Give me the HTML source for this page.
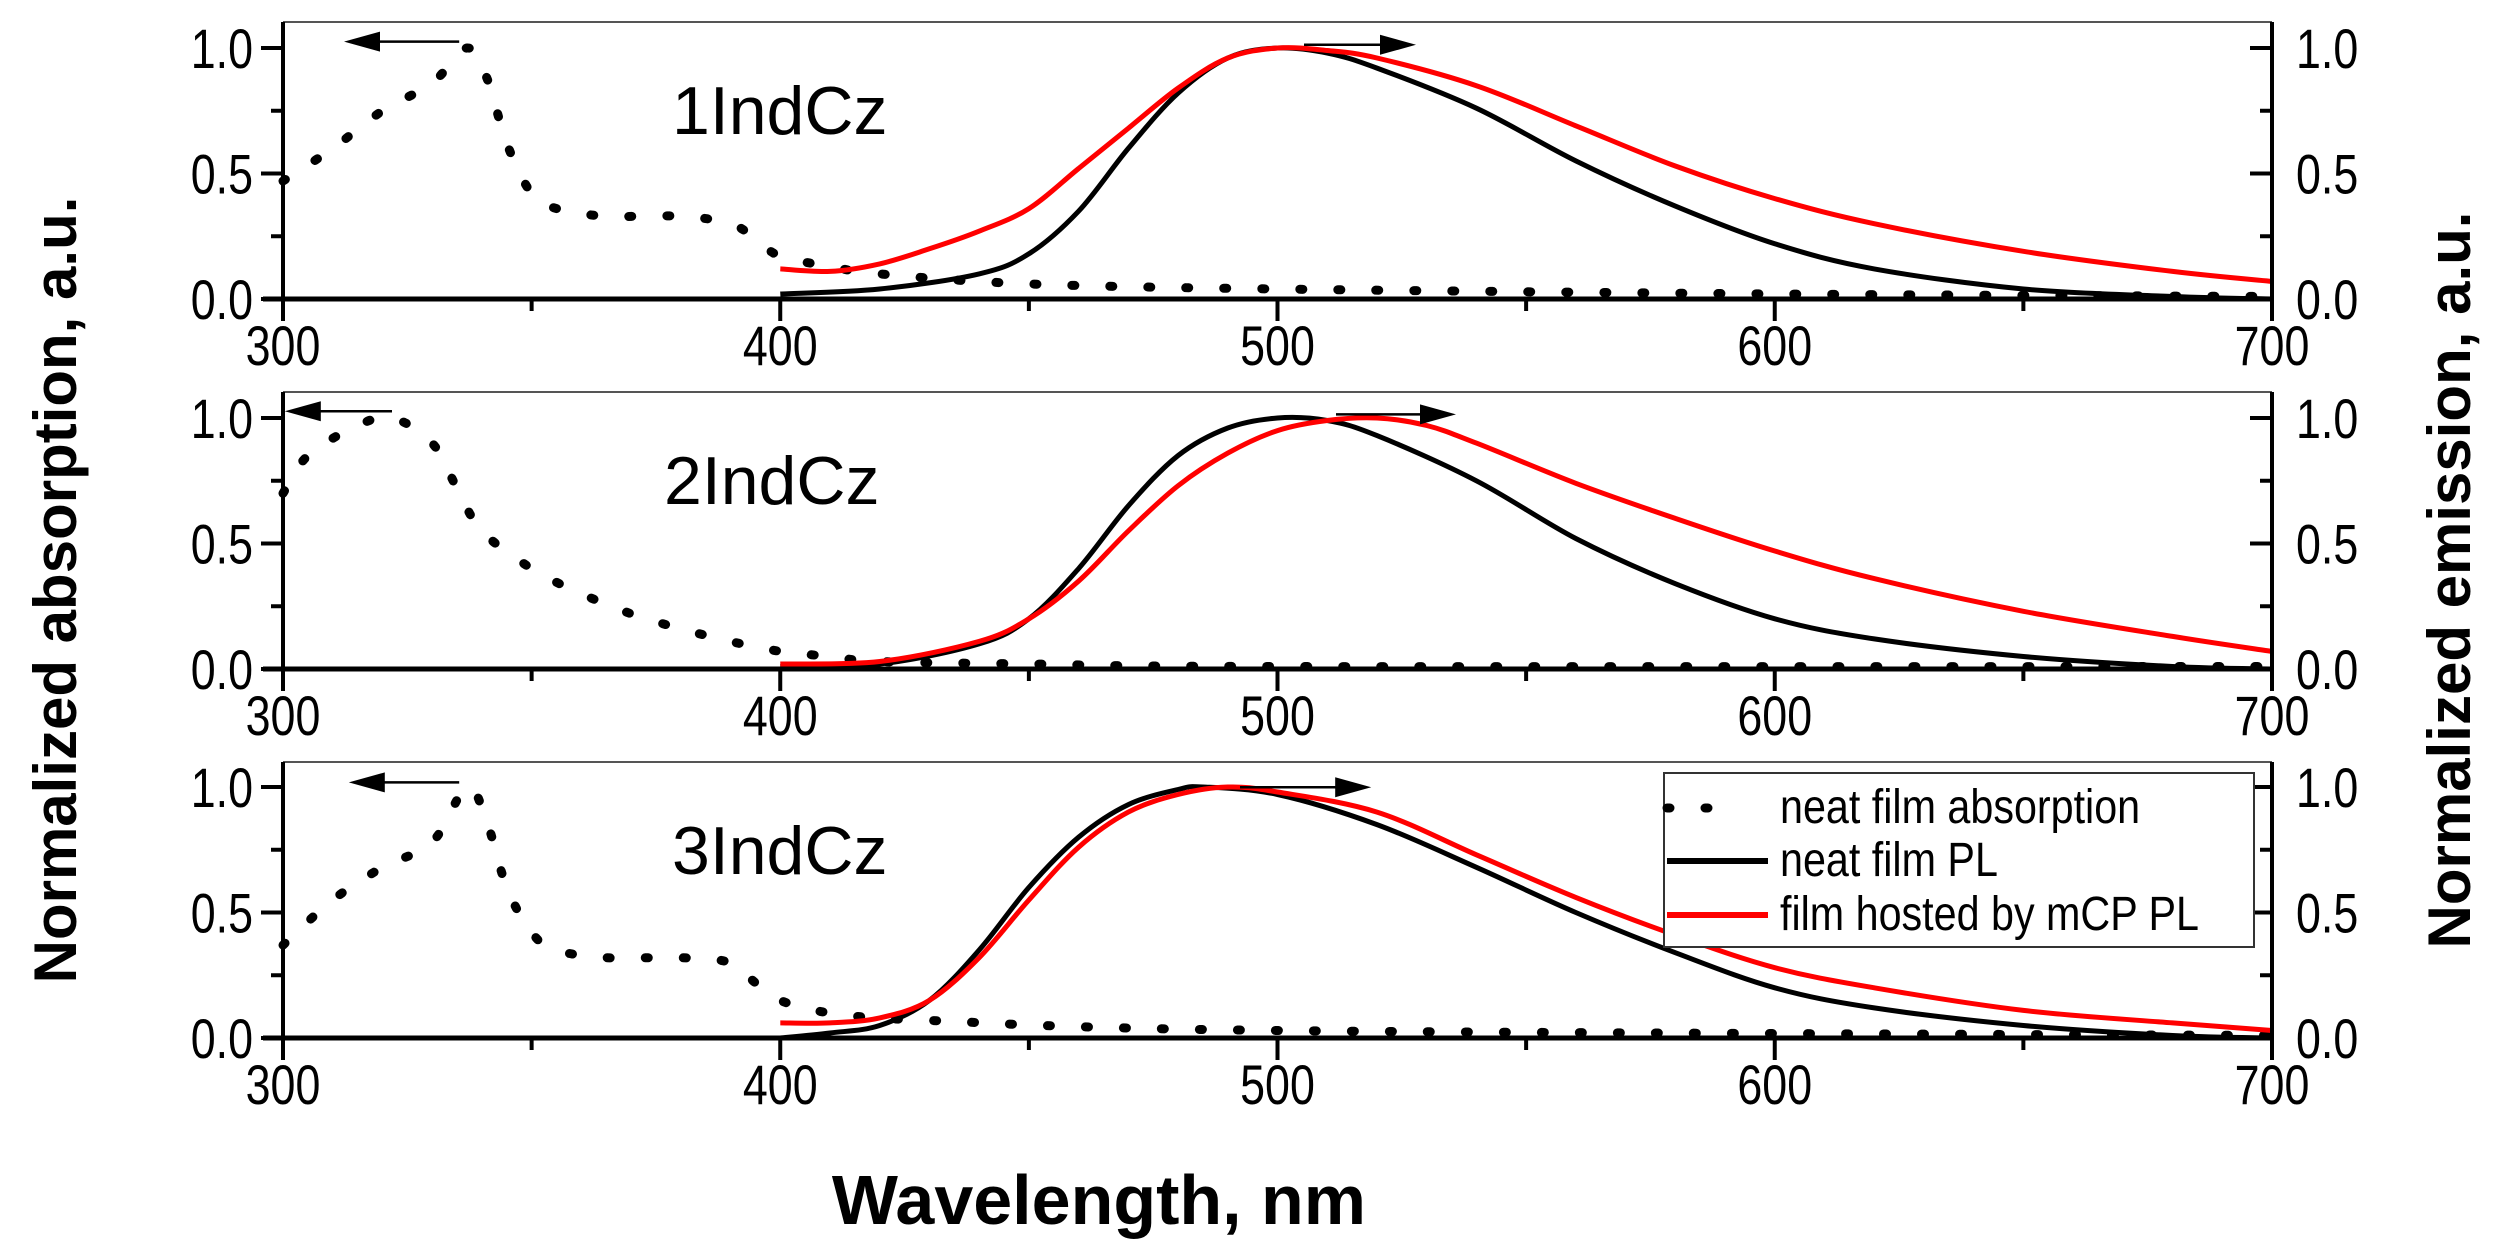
<!DOCTYPE html>
<html><head><meta charset="utf-8"><style>
html,body{margin:0;padding:0;background:#fff}
svg{display:block}
text{font-family:"Liberation Sans",sans-serif}
.b{font-family:"Liberation Sans",sans-serif;font-weight:bold}
</style></head><body>
<svg id="s" width="2496" height="1256" viewBox="0 0 2496 1256" xmlns="http://www.w3.org/2000/svg"></svg>
<script>
const s=document.getElementById('s');
const X0=283,X1=2272;
const xs=n=>X0+(n-300)*(X1-X0)/400;
const P=[{top:22,y1:48,y0:299,lab:'1IndCz'},{top:392,y1:418,y0:669,lab:'2IndCz'},{top:762,y1:787,y0:1038,lab:'3IndCz'}];
let h='';
function path(pts,p){
  const q=pts.map(a=>[xs(a[0]),p.y0-(p.y0-p.y1)*a[1]]);
  let d='M'+q[0][0].toFixed(1)+' '+q[0][1].toFixed(1);
  for(let i=0;i<q.length-1;i++){
    const a=q[i-1]||q[i],b=q[i],c=q[i+1],e=q[i+2]||c;
    const c1=[b[0]+(c[0]-a[0])/6,b[1]+(c[1]-a[1])/6],c2=[c[0]-(e[0]-b[0])/6,c[1]-(e[1]-b[1])/6];
    d+=` C${c1[0].toFixed(1)} ${c1[1].toFixed(1)} ${c2[0].toFixed(1)} ${c2[1].toFixed(1)} ${c[0].toFixed(1)} ${c[1].toFixed(1)}`;
  }
  return d;
}
function T(x,y,t,anchor,fs,sx){return `<text transform="translate(${x},${y}) scale(${sx},1)" font-size="${fs}" text-anchor="${anchor}">${t}</text>`;}
const D=[
{ab:[[300,.47],[310,.6],[320,.75],[330,.86],[337,1],[341,.88],[345,.62],[350,.42],[355,.36],[365,.33],[380,.33],[390,.3],[395,.24],[400,.17],[410,.13],[420,.1],[450,.06],[500,.04],[600,.02],[700,.01]],
 k:[[400,.02],[420,.04],[440,.1],[450,.18],[460,.35],[470,.6],[480,.82],[490,.96],[500,1],[510,.98],[520,.92],[540,.76],[560,.55],[580,.37],[600,.22],[620,.12],[650,.04],[680,.01],[700,0]],
 r:[[400,.12],[410,.11],[420,.14],[430,.2],[440,.27],[450,.36],[460,.52],[470,.68],[480,.84],[490,.96],[500,1],[510,.99],[520,.96],[540,.85],[560,.69],[580,.53],[600,.4],[620,.3],[650,.19],[680,.11],[700,.07]],
 la:[287,215,26],ra:[815,885,28]},
{ab:[[300,.7],[305,.85],[315,.97],[322,1],[330,.9],[335,.72],[340,.55],[350,.4],[360,.3],[370,.22],[380,.16],[390,.11],[400,.07],[410,.05],[420,.03],[450,.02],[500,.01],[700,.01]],
 k:[[400,.01],[420,.02],[440,.1],[450,.2],[460,.4],[470,.65],[480,.85],[490,.96],[500,1],[510,.99],[520,.93],[540,.75],[560,.52],[580,.34],[600,.2],[620,.12],[650,.05],[680,.01],[700,0]],
 r:[[400,.02],[420,.03],[440,.11],[450,.2],[460,.35],[470,.55],[480,.73],[490,.86],[500,.95],[510,.99],[520,1],[530,.97],[540,.9],[560,.74],[580,.6],[600,.47],[620,.36],[650,.23],[680,.13],[700,.07]],
 la:[245,178,257],ra:[835,910,259]},
{ab:[[300,.37],[310,.55],[320,.68],[330,.78],[337,1],[341,.86],[345,.6],[350,.42],[355,.35],[365,.32],[380,.32],[390,.3],[395,.22],[400,.15],[410,.1],[430,.07],[500,.03],[700,.01]],
 k:[[400,0],[410,.02],[420,.05],[430,.15],[440,.35],[450,.6],[460,.8],[470,.93],[480,.99],[485,1],[500,.97],[520,.85],[540,.68],[560,.5],[580,.34],[600,.2],[620,.12],[650,.05],[680,.01],[700,0]],
 r:[[400,.06],[410,.06],[420,.08],[430,.15],[440,.32],[450,.55],[460,.76],[470,.9],[480,.97],[490,1],[500,.98],[520,.9],[540,.73],[560,.56],[580,.41],[600,.28],[620,.2],[650,.11],[680,.06],[700,.03]],
 la:[287,218,489],ra:[775,857,492]}];
P.forEach((p,i)=>{
  const d=D[i];
  h+=`<line x1="${X0}" y1="${p.top}" x2="${X1}" y2="${p.top}" stroke="#555" stroke-width="2"/>`;
  h+=`<path d="${path(d.ab,p)}" fill="none" stroke="#000" stroke-width="9" stroke-linecap="round" stroke-dasharray="3 35"/>`;
  h+=`<path d="${path(d.k,p)}" fill="none" stroke="#000" stroke-width="5"/>`;
  h+=`<path d="${path(d.r,p)}" fill="none" stroke="#f00" stroke-width="5"/>`;
  h+=`<line x1="${X0}" y1="${p.top}" x2="${X0}" y2="${p.y0+20}" stroke="#000" stroke-width="4"/>`;
  h+=`<line x1="${X1}" y1="${p.top}" x2="${X1}" y2="${p.y0+20}" stroke="#000" stroke-width="4"/>`;
  h+=`<line x1="${X0-20}" y1="${p.y0}" x2="${X1}" y2="${p.y0}" stroke="#000" stroke-width="5"/>`;
  for(let v=0;v<=4;v++){const y=p.y0-(p.y0-p.y1)*v/4;const L=v%2?12:22;
    h+=`<line x1="${X0-L}" y1="${y}" x2="${X0}" y2="${y}" stroke="#000" stroke-width="4"/>`;
    h+=`<line x1="${X1-L}" y1="${y}" x2="${X1}" y2="${y}" stroke="#000" stroke-width="4"/>`;
    if(v%2==0){const t=(v/4).toFixed(1);
      h+=T(X0-30,y+20,t,'end',56,0.8);
      h+=T(X1+24,y+20,t,'start',56,0.8);}}
  for(let n=300;n<=700;n+=50){const x=xs(n);const L=n%100?12:22;
    h+=`<line x1="${x}" y1="${p.y0}" x2="${x}" y2="${p.y0+L}" stroke="#000" stroke-width="4"/>`;
    if(n%100==0)h+=T(x,p.y0+66,n,'middle',56,0.8);}
  h+=`<text x="${i==1?664:672}" y="${p.top+112}" font-size="68">${p.lab}</text>`;
  const a=(c)=>{const x1=c[0]*1.6,x2=c[1]*1.6,y=c[2]*1.6,dir=Math.sign(x2-x1);
    return `<line x1="${x1}" y1="${y}" x2="${x2-dir*30}" y2="${y}" stroke="#000" stroke-width="2.5"/><polygon points="${x2},${y} ${x2-dir*36},${y-10} ${x2-dir*36},${y+10}" fill="#000"/>`;};
  h+=a(d.la)+a(d.ra);
});
h+=`<rect x="1664" y="773" width="590" height="174" fill="#fff" stroke="#333" stroke-width="2"/>`;
h+=`<line x1="1667" y1="808" x2="1740" y2="808" stroke="#000" stroke-width="9" stroke-linecap="round" stroke-dasharray="3 35"/>`;
h+=`<line x1="1667" y1="861" x2="1768" y2="861" stroke="#000" stroke-width="6"/>`;
h+=`<line x1="1667" y1="915" x2="1768" y2="915" stroke="#f00" stroke-width="6"/>`;
h+=T(1780,823,'neat film absorption','start',48,0.86);
h+=T(1780,876,'neat film PL','start',48,0.86);
h+=T(1780,930,'film hosted by mCP PL','start',48,0.86);
h+=`<text class="b" x="0" y="0" font-size="60" text-anchor="middle" transform="translate(76,590) rotate(-90)">Normalized absorption, a.u.</text>`;
h+=`<text class="b" x="0" y="0" font-size="60" text-anchor="middle" transform="translate(2470,580) rotate(-90)">Normalized emission, a.u.</text>`;
h+=`<text class="b" x="1099" y="1224" font-size="70" text-anchor="middle">Wavelength, nm</text>`;
s.innerHTML=h;
</script>
</body></html>
